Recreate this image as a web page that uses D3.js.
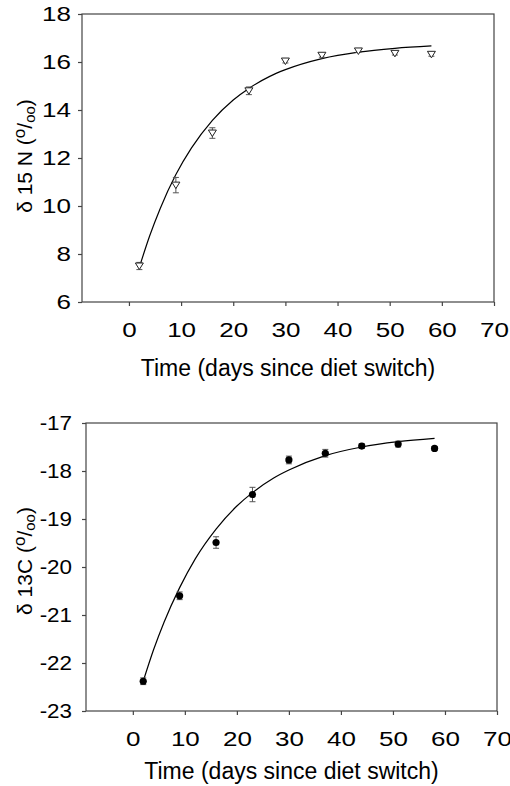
<!DOCTYPE html>
<html>
<head>
<meta charset="utf-8">
<script src="https://cdn.jsdelivr.net/npm/d3@7"></script>
<style>
  body { margin: 0; background: #fff; }
  svg { display: block; font-family: "Liberation Sans", Arial, sans-serif; }
</style>
</head>
<body>
<svg id="chart" width="510" height="786"></svg>
<script>
// sampling days
const days = [2, 9, 16, 23, 30, 37, 44, 51, 58];

// delta 15N means and SE
const n15Mean = [7.5, 10.87, 13.04, 14.8, 16.04, 16.28, 16.46, 16.36, 16.32];
const n15Err = [0.15, 0.32, 0.22, 0.16, 0.08, 0.08, 0.06, 0.07, 0.08];

// delta 13C means and SE
const c13Mean = [-22.38, -20.6, -19.49, -18.49, -17.77, -17.63, -17.48, -17.44, -17.53];
const c13Err = [0.07, 0.08, 0.12, 0.15, 0.08, 0.08, 0.05, 0.06, 0.04];

// fitted curves
const fitDays = [2, 4, 6, 9, 12, 16, 20, 23, 27, 30, 37, 44, 51, 58];
const n15Fit = [7.45, 8.77, 9.9, 11.31, 12.42, 13.57, 14.42, 14.9, 15.4, 15.68, 16.14, 16.41, 16.57, 16.67];
const c13Fit = [-22.38, -21.72, -21.15, -20.43, -19.83, -19.21, -18.73, -18.45, -18.15, -17.98, -17.68, -17.5, -17.39, -17.32];

// tick labels
const xTicks = [0, 10, 20, 30, 40, 50, 60, 70];
const n15Ticks = [6, 8, 10, 12, 14, 16, 18];
const c13Ticks = [-23, -22, -21, -20, -19, -18, -17];

const svg = d3.select('#chart');
const axisColor = '#444';

// tick digits in the original are drawn wider than the plain font
function widen(sel) {
  sel.each(function (d) {
    const f = d < 0 ? 1.12 : 1.3;
    const len = this.getComputedTextLength();
    d3.select(this).attr('textLength', len * f).attr('lengthAdjust', 'spacingAndGlyphs');
  });
}

function drawPanel(opt) {
  const g = svg.append('g').attr('transform', `translate(${opt.left},${opt.top})`);
  const w = opt.right - opt.left, h = opt.bottom - opt.top;

  const x = d3.scaleLinear().domain([-9, 70]).range([0, w]);
  const y = d3.scaleLinear().domain(opt.yDomain).range([h, 0]);

  // frame
  g.append('rect')
    .attr('width', w).attr('height', h)
    .attr('fill', 'none').attr('stroke', axisColor).attr('stroke-width', 1.2);

  const xAxis = g.append('g')
    .attr('transform', `translate(0,${h})`)
    .call(d3.axisBottom(x).tickValues(xTicks).tickSize(4).tickPadding(17).tickFormat(d3.format('d')));
  xAxis.select('.domain').remove();
  xAxis.selectAll('line').attr('stroke', axisColor).attr('stroke-width', 1.2);
  xAxis.selectAll('text').attr('font-size', 20).attr('fill', '#000')
    .attr('font-family', '"Liberation Sans", Arial, sans-serif')
    .call(widen);

  const yAxis = g.append('g')
    .call(d3.axisLeft(y).tickValues(opt.yTicks).tickSize(4).tickPadding(opt.yPad).tickFormat(d3.format('d')));
  yAxis.select('.domain').remove();
  yAxis.selectAll('line').attr('stroke', axisColor).attr('stroke-width', 1.2);
  yAxis.selectAll('text').attr('font-size', 20).attr('fill', '#000')
    .attr('font-family', '"Liberation Sans", Arial, sans-serif')
    .text(d => d < 0 ? '-' + Math.abs(d) : d)
    .call(widen);

  // fitted curve
  const line = d3.line().x(d => x(d[0])).y(d => y(d[1])).curve(d3.curveMonotoneX);
  g.append('path')
    .datum(fitDays.map((d, i) => [d, opt.fit[i]]))
    .attr('d', line)
    .attr('fill', 'none').attr('stroke', '#000').attr('stroke-width', 1.2);

  // error bars
  const pts = days.map((d, i) => ({ x: d, m: opt.mean[i], e: opt.err[i] }));
  const eb = g.selectAll('.eb').data(pts).enter().append('g').attr('class', 'eb');
  eb.append('line')
    .attr('x1', d => x(d.x)).attr('x2', d => x(d.x))
    .attr('y1', d => y(d.m - d.e)).attr('y2', d => y(d.m + d.e));
  eb.append('line')
    .attr('x1', d => x(d.x) - 3).attr('x2', d => x(d.x) + 3)
    .attr('y1', d => y(d.m - d.e)).attr('y2', d => y(d.m - d.e));
  eb.append('line')
    .attr('x1', d => x(d.x) - 3).attr('x2', d => x(d.x) + 3)
    .attr('y1', d => y(d.m + d.e)).attr('y2', d => y(d.m + d.e));
  eb.selectAll('line').attr('stroke', '#555').attr('stroke-width', 1);

  // markers
  if (opt.marker === 'triangle') {
    g.selectAll('.mk').data(pts).enter().append('path')
      .attr('class', 'mk')
      .attr('transform', d => `translate(${x(d.x)},${y(d.m)})`)
      .attr('d', 'M-4,-3L4,-3L0,3.5Z')
      .attr('fill', '#fff').attr('stroke', '#222').attr('stroke-width', 1);
  } else {
    g.selectAll('.mk').data(pts).enter().append('circle')
      .attr('class', 'mk')
      .attr('cx', d => x(d.x)).attr('cy', d => y(d.m)).attr('r', 3.6)
      .attr('fill', '#000');
  }

  // x title
  svg.append('text')
    .attr('x', opt.left + x(30.5)).attr('y', opt.xTitleY)
    .attr('text-anchor', 'middle').attr('font-size', 23)
    .text('Time (days since diet switch)');

  // y title with per mil notation
  const yt = svg.append('text')
    .attr('transform', `translate(${opt.yTitleX},${opt.yTitleY}) rotate(-90)`)
    .attr('text-anchor', 'middle').attr('font-size', 21);
  yt.append('tspan').text(opt.yLabel + ' (');
  yt.append('tspan').attr('dy', -7).attr('font-size', 17).text('o');
  yt.append('tspan').attr('dy', 7).text('/');
  yt.append('tspan').attr('dy', 3).attr('font-size', 15).text('oo');
  yt.append('tspan').attr('dy', -3).text(')');
}

drawPanel({
  left: 82, right: 494, top: 14, bottom: 302,
  yDomain: [6, 18], yTicks: n15Ticks, yPad: 7,
  mean: n15Mean, err: n15Err, fit: n15Fit, marker: 'triangle',
  xTitleY: 376, yTitleX: 32, yTitleY: 156, yLabel: 'δ 15 N'
});

drawPanel({
  left: 86, right: 497, top: 423, bottom: 711,
  yDomain: [-23, -17], yTicks: c13Ticks, yPad: 10,
  mean: c13Mean, err: c13Err, fit: c13Fit, marker: 'circle',
  xTitleY: 779, yTitleX: 32, yTitleY: 561, yLabel: 'δ 13C'
});
</script>
</body>
</html>
